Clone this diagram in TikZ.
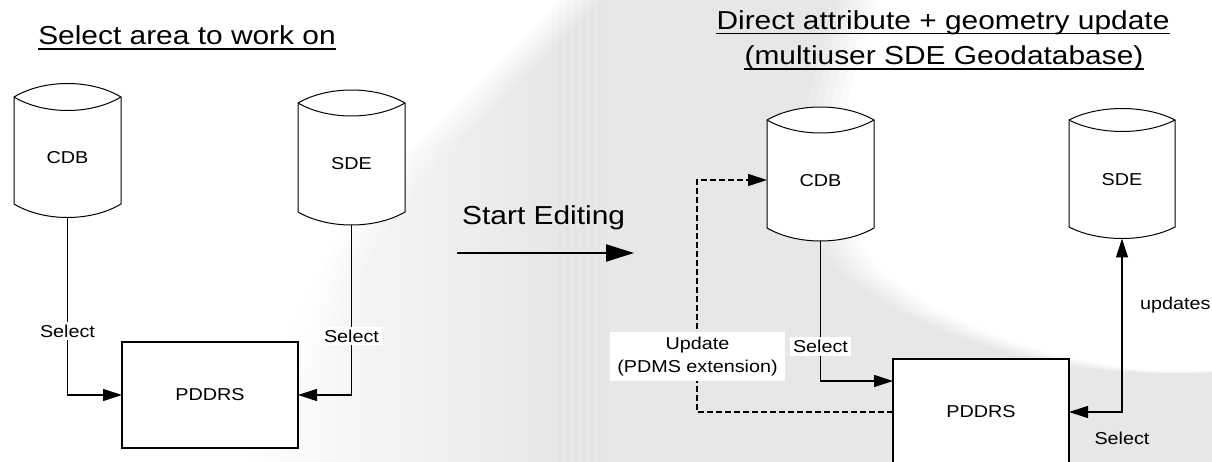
\documentclass[tikz,border=0pt]{standalone}
\usepackage{fontspec}
\setmainfont{Liberation Sans}[FakeStretch=1.15]
\usetikzlibrary{arrows.meta}
\newcommand\dbcyl[7]{%
  \path[dbline] (#2,#4) .. controls ({#2+0.28*(#3-#2)},{#4-1.333*#6}) and ({#3-0.28*(#3-#2)},{#4-1.333*#6}) .. (#3,#4) -- (#3,#5) .. controls ({#3-0.28*(#3-#2)},{#5+1.333*#6}) and ({#2+0.28*(#3-#2)},{#5+1.333*#6}) .. (#2,#5) -- cycle;
  \draw[line width=1pt] (#2,#4) .. controls ({#2+0.28*(#3-#2)},{#4+1.333*#6}) and ({#3-0.28*(#3-#2)},{#4+1.333*#6}) .. (#3,#4);
  \node[dbbox, minimum width={#3-#2}, minimum height={#5-#4+2*#6}] (#1) at ({(#2+#3)/2},{(#4+#5)/2}) {};
  \node[dbtext] (#1t) at ({(#2+#3)/2},{(#4+#6+#5)/2}) {#7};
}
\begin{document}
\begin{tikzpicture}[x=1pt,y=-1pt,
  dbline/.style={draw=black, line width=1pt, fill=white},
  dbbox/.style={draw=none, inner sep=0pt, outer sep=0pt, rectangle},
  dbtext/.style={font=\fontsize{17.2}{20}\selectfont, inner sep=0pt},
  procbox/.style={draw=black, line width=1.1pt, fill=white, minimum width=176pt, minimum height=106pt, inner sep=0pt, outer sep=0pt, font=\fontsize{17.2}{20}\selectfont},
  conn/.style={line width=1.1pt, -{Triangle[length=19pt,width=12pt]}},
  dconn/.style={conn, dash pattern=on 6pt off 3pt},
  lab/.style={fill=white, inner xsep=3.5pt, inner ysep=3pt, font=\fontsize{17.2}{20}\selectfont},
  plainlab/.style={inner sep=0pt, font=\fontsize{17.2}{20}\selectfont},
  title/.style={inner sep=0pt, font=\fontsize{26}{30}\selectfont},
  uline/.style={line width=1.5pt},
  bigarrow/.style={line width=2.2pt, -{Triangle[length=28pt,width=17pt]}},
]
\useasboundingbox (0,0) rectangle (1212,462);
\fill[white] (0,0) rectangle (1212,462);
% soft background swoosh
\foreach \d in {0,8,16,24,32,40} {
  \begin{scope}[xshift=\d pt]
    \clip (250,462) .. controls (290,320) and (330,230) .. (420,140) -- (560,0) -- (840,0) .. controls (800,100) and (780,200) .. (840,270) .. controls (920,340) and (1080,385) .. (1212,370) -- (1212,462) -- cycle;
    \shade[left color=white, right color=black, fill opacity=0.014] (240,0) rectangle (560,462);
    \fill[black, fill opacity=0.014] (559,0) rectangle (1212,462);
  \end{scope}
}

% titles
\node[title, anchor=base] (t1) at (187,45) {Select area to work on};
\draw[uline] ([yshift=-4pt]t1.base west) -- ([yshift=-4pt]t1.base east);
\node[title, anchor=base] (t2) at (943,30) {Direct attribute + geometry update};
\draw[uline] ([yshift=-3.5pt]t2.base west) -- ([yshift=-3.5pt]t2.base east);
\node[title, anchor=base] (t3) at (944,65) {(multiuser SDE Geodatabase)};
\draw[uline] ([yshift=-4pt]t3.base west) -- ([yshift=-4pt]t3.base east);

% left side
\dbcyl{cdbL}{14}{121}{97}{204}{13.5}{CDB}
\dbcyl{sdeL}{298}{405}{103}{212}{13}{SDE}
\node[procbox] (pdL) at (210,395) {PDDRS};
\draw[conn] (cdbL.south) |- node[lab, pos=0.32] (s1) {Select} (pdL.west);
\draw[conn] (sdeL.south) |- node[lab, pos=0.327] (s2) {Select} (pdL.east);

% middle
\node[title, anchor=base west] (se) at (462,225) {Start Editing};
\coordinate (se1) at (457,253);
\coordinate (se2) at (634,253);
\draw[bigarrow] (se1) -- (se2);

% right side
\dbcyl{cdbR}{767}{874}{120}{228}{13}{CDB}
\dbcyl{sdeR}{1069}{1175}{120}{227}{11.5}{SDE}
\node[procbox] (pdR) at (981,412) {PDDRS};
\draw[conn] (cdbR.south) |- node[lab, pos=0.376] (s3) {Select} ([yshift=31pt]pdR.west);
\draw[line width=1.1pt, {Triangle[length=19pt,width=12pt]}-{Triangle[length=19pt,width=12pt]}] (pdR.east) -| (sdeR.south);
\node[plainlab, anchor=west] (u1) at (1140,305) {updates};
\node[plainlab] (s4) at (1122,438) {Select};
\coordinate (dk) at (697,300);
\draw[dconn] (pdR.west) -| (dk) |- ([yshift=-6pt]cdbR.west);
\node[lab, align=center, inner xsep=7pt, inner ysep=5pt, font=\fontsize{17.2}{23}\selectfont] (upd) at (697.5,356.5) {Update\\(PDMS extension)};
\end{tikzpicture}
\end{document}
